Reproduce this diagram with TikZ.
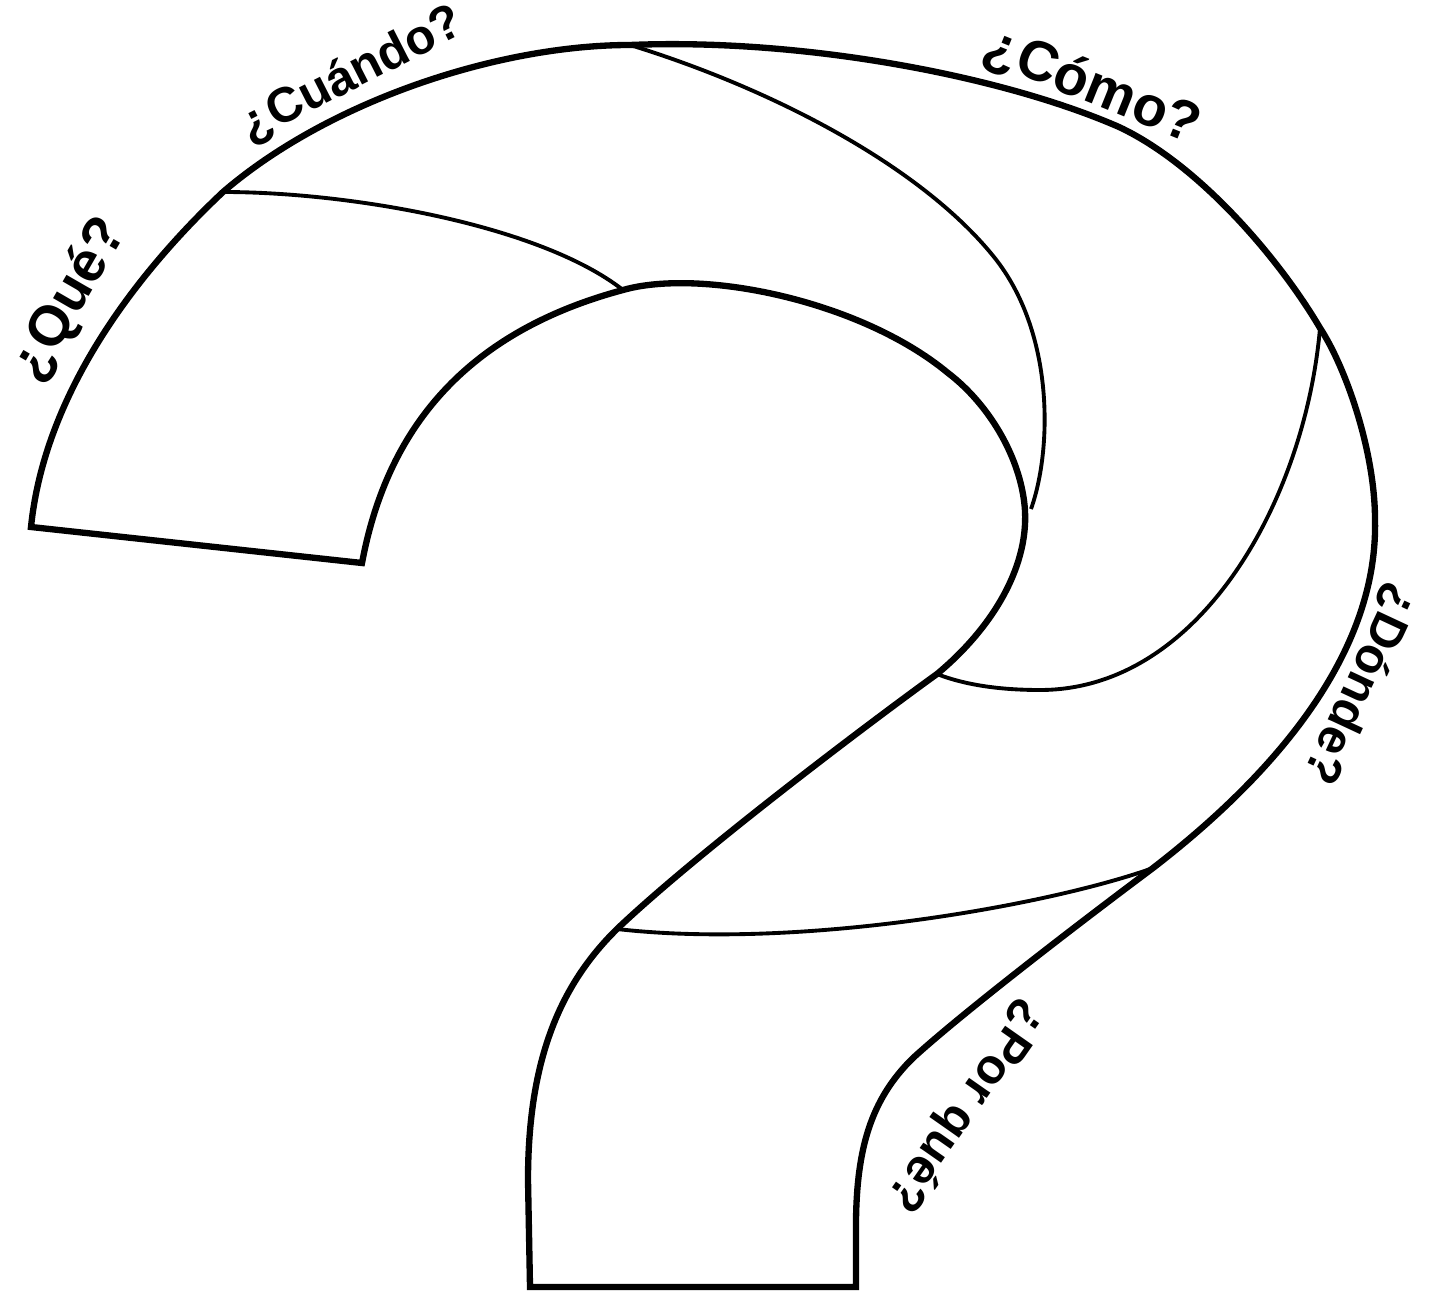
\documentclass[tikz,border=0pt]{standalone}
\usepackage{fontspec}
\setmainfont{Liberation Sans}
\usepackage{tikz}
\tikzset{
  outline/.style={line width=3.6pt, draw=black, line join=miter},
  seam/.style={line width=2.2pt, draw=black},
  qword/.style={font=\fontsize{28}{30}\selectfont\bfseries, inner sep=0pt},
  bigword/.style={qword, font=\fontsize{32}{34}\selectfont\bfseries}
}

\begin{document}
\begin{tikzpicture}[x=0.02cm, y=-0.02cm]
        \useasboundingbox (0,0) rectangle (1442,1293);
        \coordinate (hookL) at (31,527);
        \coordinate (hookR) at (362,563);
        \coordinate (stemL) at (530,1287);
        \coordinate (stemR) at (856,1287);
        \coordinate (jA) at (223,192);
        \coordinate (jB) at (623,290);
        \coordinate (jC) at (630,45);
        \coordinate (jD) at (1031,509);
        \coordinate (jE) at (1320,328);
        \coordinate (jF) at (937,674);
        \coordinate (jG) at (1153,868);
        \coordinate (jH) at (617,929);
        \coordinate (bowl) at (948,373);
        \coordinate (bowlR) at (1025,511);
        \coordinate (topR) at (1119,127);
        \coordinate (farR) at (1375,520);
        \coordinate (bend) at (913,1058);
        \coordinate (midT) at (994,257);
        \coordinate (midD) at (1040,690);

        \draw[outline] (hookL) -- (hookR)
          .. controls (385,440) and (455,335) .. (jB)
          .. controls (700,268) and (860,300) .. (bowl)
          .. controls (990,405) and (1022,460) .. (bowlR)
          .. controls (1028,570) and (990,630) .. (jF)
          .. controls (880,715) and (700,850) .. (jH)
          .. controls (560,985) and (528,1060) .. (528,1180)
          -- (stemL) -- (stemR) -- (856,1220)
          .. controls (857,1150) and (870,1100) .. (bend)
          .. controls (960,1015) and (1070,930) .. (jG)
          .. controls (1280,770) and (1378,650) .. (farR)
          .. controls (1375,450) and (1345,366) .. (jE)
          .. controls (1280,260) and (1200,165) .. (topR)
          .. controls (1000,75) and (800,38) .. (jC)
          .. controls (500,45) and (330,100) .. (jA)
          .. controls (140,270) and (45,390) .. (hookL)
          -- cycle;

        \draw[seam] (jA) .. controls (350,192) and (540,225) .. (jB);
        \draw[seam] (jC) .. controls (770,88) and (920,165) .. (midT)
          .. controls (1055,333) and (1052,450) .. (jD);
        \draw[seam] (jE) .. controls (1305,500) and (1200,690) .. (midD)
          .. controls (1000,690) and (965,685) .. (jF);
        \draw[seam] (jG) .. controls (1050,905) and (800,950) .. (jH);

        \node[bigword, rotate=60] (que) at (70,300) {¿Qué?};
        \node[qword, rotate=27] (cuando) at (352,75) {¿Cuándo?};
        \node[bigword, rotate=-22] (como) at (1092,87) {¿Cómo?};
        \node[qword, rotate=-115] (donde) at (1360,684) {¿Dónde?};
        \node[qword, rotate=-125] (porque) at (966,1106) {¿Por qué?};
    \end{tikzpicture}
\end{document}
